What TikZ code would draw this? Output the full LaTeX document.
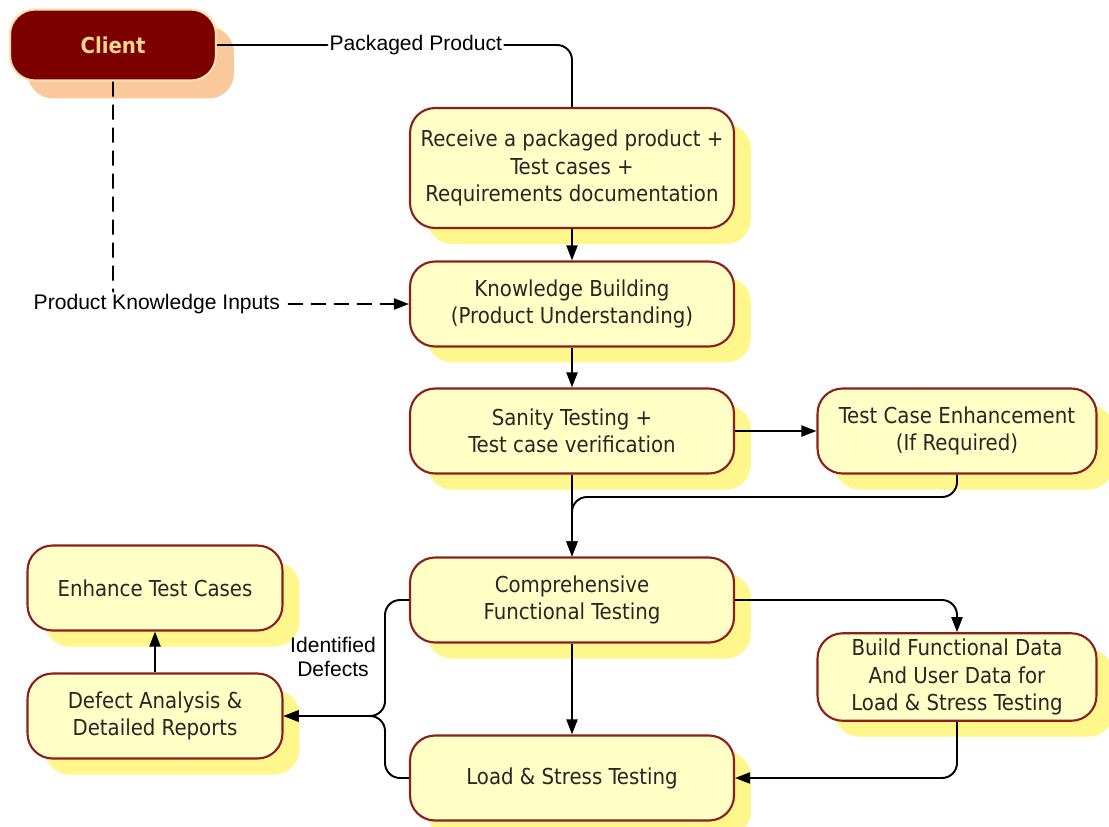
\documentclass[tikz,border=0pt]{standalone}
\usepackage{fontspec}
\setmainfont{Liberation Sans}
\newfontfamily\boxfont{DejaVu Sans Condensed}
\usetikzlibrary{arrows.meta,shapes,shadows}
\definecolor{boxfill}{RGB}{255,255,198}
\definecolor{boxline}{RGB}{140,30,30}
\definecolor{boxshade}{RGB}{255,246,140}
\definecolor{clientfill}{RGB}{125,0,0}
\definecolor{clientshade}{RGB}{250,200,155}
\definecolor{clienttext}{RGB}{246,214,140}
\tikzstyle{stage}=[rectangle,rounded corners=0.5cm,draw=boxline,line width=1.2pt,fill=boxfill,align=center,
  font=\boxfont\fontsize{12.5}{15.5}\selectfont,text=black!85,minimum width=6.48cm,minimum height=1.7cm,
  drop shadow={shadow xshift=0.34cm,shadow yshift=-0.32cm,fill=boxshade,opacity=1}]
\tikzstyle{edge} = [draw,line width=1.1pt,->,>={Triangle[length=0.3cm,width=0.22cm]},rounded corners=0.3cm]
\tikzstyle{tag} = [fill=white,inner sep=1pt,font=\fontsize{12}{14}\selectfont]

\begin{document}
\begin{tikzpicture}[x=0.02cm,y=-0.02cm]
      \useasboundingbox (0,0) rectangle (1109,826);
      \node[stage,fill=clientfill,draw=clienttext!70,text=clienttext,minimum width=4.12cm,minimum height=1.42cm,
        font=\boxfont\bfseries\fontsize{12.5}{15.5}\selectfont,
        drop shadow={shadow xshift=0.36cm,shadow yshift=-0.36cm,fill=clientshade,opacity=1}] (client) at (113,45) {Client};
      \node[stage,minimum height=2.4cm] (recv) at (572,168) {Receive a packaged product +\\Test cases +\\Requirements documentation};
      \node[stage] (know) at (572,304) {Knowledge Building\\(Product Understanding)};
      \node[stage] (sanity) at (572,431) {Sanity Testing +\\Test case verification};
      \node[stage,minimum width=5.58cm] (tce) at (957,431) {Test Case Enhancement\\(If Required)};
      \node[stage] (comp) at (572,600) {Comprehensive\\Functional Testing};
      \node[stage,minimum width=5.58cm] (build) at (957,677) {Build Functional Data\\And User Data for\\Load \& Stress Testing};
      \node[stage] (load) at (572,778) {Load \& Stress Testing};
      \node[stage,minimum width=5.1cm] (enh) at (155,588) {Enhance Test Cases};
      \node[stage,minimum width=5.1cm] (defect) at (155,716) {Defect Analysis \&\\Detailed Reports};
      \coordinate (merge) at (572,497);
      \coordinate (split) at (385,716);
      \draw[edge,-] (client) -| (recv) node[tag,pos=0.28] {Packaged Product};
      \draw[edge,dash pattern=on 0.3cm off 0.16cm] (client) |- (know) node[tag,pos=0.574] {Product Knowledge Inputs};
      \draw[edge] (recv) to (know);
      \draw[edge] (know) to (sanity);
      \draw[edge] (sanity) to (tce);
      \draw[edge] (sanity) to (comp);
      \draw[edge] (tce) |- (merge) -- (comp);
      \draw[edge] (comp) -| (build);
      \draw[edge] (comp) to (load);
      \draw[edge] (build) |- (load);
      \draw[edge] (comp) -| (split) -- (defect);
      \draw[edge] (load) -| (split) -- (defect);
      \node[align=center,font=\fontsize{12}{14}\selectfont] (defects) at (333,657) {Identified\\Defects};
      \draw[edge] (defect) to (enh);
    \end{tikzpicture}
\end{document}
